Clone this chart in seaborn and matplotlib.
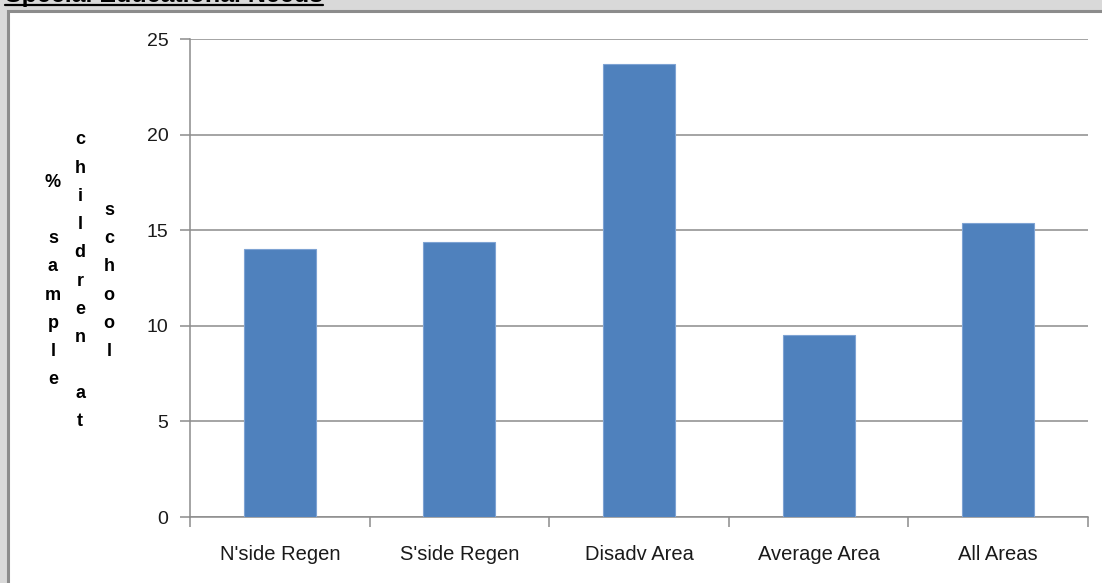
import matplotlib
matplotlib.use("Agg")
import matplotlib.pyplot as plt
from matplotlib.patches import Rectangle
from matplotlib.lines import Line2D
import seaborn as sns
import pandas as pd

# Share of sampled children at school with special educational needs
areas = ["N'side Regen", "S'side Regen", "Disadv Area", "Average Area", "All Areas"]
pct_sen = [14.0, 14.4, 23.7, 9.5, 15.4]
y_ticks = [0, 5, 10, 15, 20, 25]
title = "Special Educational Needs"
ylabel_columns = ["% sample", "children at", "school"]

W, H = 1102, 583
sns.set_theme(style="white")
plt.rcParams["font.family"] = ["Liberation Sans", "DejaVu Sans"]

fig = plt.figure(figsize=(W / 100, H / 100), dpi=100, facecolor="#d9d9d9")

# white chart panel with a darker frame on the left and top
fig.patches.append(Rectangle((7.5 / W, -0.1), 1.2, (H - 11.5) / H + 0.1,
                             transform=fig.transFigure, facecolor="white",
                             edgecolor="#8c8c8c", linewidth=2.2, zorder=-5))

ax = fig.add_axes([190 / W, 1 - 517 / H, (1088 - 190) / W, (517 - 39) / H])
ax.set_facecolor("white")
ax.patch.set_alpha(0)

df = pd.DataFrame({"area": areas, "pct": pct_sen})
sns.barplot(data=df, x="area", y="pct", color="#4f81bd", saturation=1,
            width=0.4, edgecolor="#7ea3d3", linewidth=0.8, ax=ax, zorder=3)

ax.set_ylim(0, 25)
ax.set_xlim(-0.5, len(areas) - 0.5)
ax.set_yticks(y_ticks)
ax.set_yticklabels([str(v) for v in y_ticks])
ax.yaxis.grid(True, color="#8c8c8c", linewidth=1.1, zorder=0)
ax.set_axisbelow(True)

# category boundaries carry the tick marks; labels sit at the bar centres
n = len(areas)
ax.set_xticks([i - 0.5 for i in range(n + 1)])
ax.set_xticklabels([""] * (n + 1))
ax.set_xticks(range(n), minor=True)
ax.set_xticklabels(areas, minor=True)
ax.tick_params(axis="x", which="major", length=7, width=1.1, color="#8c8c8c",
               direction="out", bottom=True)
ax.tick_params(axis="x", which="minor", length=0, pad=20.5, labelsize=14.5,
               labelcolor="#1a1a1a")
ax.tick_params(axis="y", length=7, width=1.1, color="#8c8c8c", direction="out",
               left=True, pad=8.5, labelsize=14, labelcolor="#1a1a1a")

for side in ["top", "right"]:
    ax.spines[side].set_visible(False)
for side in ["left", "bottom"]:
    ax.spines[side].set_color("#8c8c8c")
    ax.spines[side].set_linewidth(1.1)
ax.set_xlabel("")
ax.set_ylabel("")

# stacked, one-letter-per-line axis title in three columns
col_x = [53, 80, 109]
step = 28.2
centre = 281
for x, words in zip(col_x, ylabel_columns):
    letters = []
    for k, w in enumerate(words.split(" ")):
        if k:
            letters.append("")
        letters.extend(list(w))
    m = len(letters)
    for i, ch in enumerate(letters):
        if not ch:
            continue
        y = centre + (i - (m - 1) / 2) * step
        fig.text(x / W, 1 - y / H, ch, ha="center", va="center",
                 fontsize=13, fontweight="bold", color="black")

# clipped, underlined chart title at the top edge
t = fig.text(5 / W, 1 - 2.0 / H, title, ha="left", va="baseline",
             fontsize=18, fontweight="bold", color="black")
fig.canvas.draw()
bb = t.get_window_extent()
fig.lines.append(Line2D([bb.x0 / W, bb.x1 / W], [1 - 4.5 / H, 1 - 4.5 / H],
                        transform=fig.transFigure, color="black", linewidth=1.6))

fig.savefig("out.png", dpi=100, facecolor=fig.get_facecolor())
